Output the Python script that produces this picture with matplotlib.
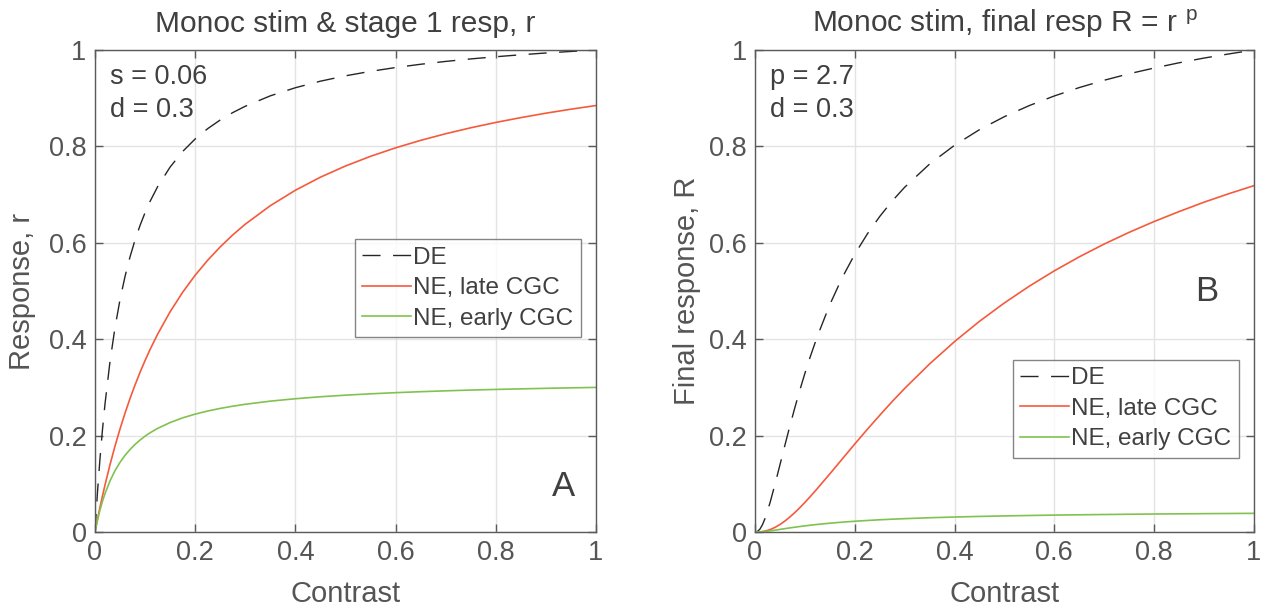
import matplotlib
matplotlib.use("Agg")
import matplotlib.pyplot as plt

plt.rcParams["font.family"] = ["Liberation Sans", "DejaVu Sans"]
plt.rcParams["mathtext.fontset"] = "custom"
plt.rcParams["mathtext.rm"] = "Liberation Sans"
plt.rcParams["mathtext.it"] = "Liberation Sans"

TXT = "#404040"
AX = "#5a5a5a"
RED = "#f55a3c"
GREEN = "#80c24f"

# contrast samples
contrast = [0, 0.005, 0.01, 0.015, 0.02, 0.03, 0.04, 0.05, 0.06, 0.07, 0.08, 0.09, 0.1, 0.11,
            0.125, 0.15, 0.175, 0.2, 0.225, 0.25, 0.275, 0.3, 0.35, 0.4, 0.45, 0.5, 0.55, 0.6,
            0.65, 0.7, 0.75, 0.8, 0.85, 0.9, 0.95, 1.0]

# panel A: stage 1 response r
de_r = [0, 0.0815, 0.1514, 0.212, 0.265, 0.3533, 0.424, 0.4818, 0.53, 0.5708, 0.6057, 0.636,
        0.6625, 0.6859, 0.7162, 0.7571, 0.7894, 0.8154, 0.8368, 0.8548, 0.8701, 0.8833, 0.9049,
        0.9217, 0.9353, 0.9464, 0.9557, 0.9636, 0.9704, 0.9763, 0.9815, 0.986, 0.9901, 0.9938,
        0.997, 1.0]
late_r = [0, 0.0261, 0.051, 0.0746, 0.0972, 0.1395, 0.1782, 0.2137, 0.2465, 0.2769, 0.305, 0.3313,
          0.3557, 0.3786, 0.4102, 0.4569, 0.4973, 0.5327, 0.5638, 0.5915, 0.6163, 0.6386, 0.677,
          0.709, 0.7361, 0.7593, 0.7794, 0.797, 0.8125, 0.8263, 0.8386, 0.8497, 0.8597, 0.8689,
          0.8772, 0.8848]
early_r = [0, 0.0245, 0.0454, 0.0636, 0.0795, 0.106, 0.1272, 0.1445, 0.159, 0.1712, 0.1817, 0.1908,
           0.1988, 0.2058, 0.2149, 0.2271, 0.2368, 0.2446, 0.251, 0.2564, 0.261, 0.265, 0.2715,
           0.2765, 0.2806, 0.2839, 0.2867, 0.2891, 0.2911, 0.2929, 0.2945, 0.2958, 0.297, 0.2981,
           0.2991, 0.3]

# panel B: final response R
de_R = [0, 0.00115, 0.0061, 0.01518, 0.0277, 0.0602, 0.0986, 0.1392, 0.1801, 0.2201, 0.2583, 0.2946,
        0.329, 0.3613, 0.406, 0.4718, 0.5281, 0.5763, 0.6181, 0.6546, 0.6868, 0.7153, 0.7635,
        0.8024, 0.8348, 0.8618, 0.8848, 0.9047, 0.9221, 0.9373, 0.9508, 0.9626, 0.9735, 0.9833,
        0.9919, 1.0]
late_R = [0, 0.00005, 0.00032, 0.0009, 0.00185, 0.0049, 0.0095, 0.0155, 0.0228, 0.0312, 0.0405, 0.0506,
          0.0614, 0.0726, 0.0902, 0.1206, 0.1516, 0.1826, 0.2128, 0.2422, 0.2707, 0.2979, 0.3488,
          0.3951, 0.4372, 0.4754, 0.5102, 0.5419, 0.5709, 0.5975, 0.6218, 0.6442, 0.6648, 0.6843,
          0.702, 0.7186]
early_R = [0, 0.00004, 0.00024, 0.00059, 0.00107, 0.00234, 0.00382, 0.00539, 0.00698, 0.00853, 0.01,
           0.01141, 0.01275, 0.014, 0.01574, 0.01827, 0.02045, 0.02233, 0.02394, 0.02535, 0.02661,
           0.0277, 0.02959, 0.0311, 0.03235, 0.0334, 0.03428, 0.0351, 0.03572, 0.0363, 0.03685,
           0.0373, 0.03771, 0.0381, 0.03843, 0.0387]

labels = ["DE", "NE, late CGC", "NE, early CGC"]
ticks = [0, 0.2, 0.4, 0.6, 0.8, 1]
ticklabels = ["0", "0.2", "0.4", "0.6", "0.8", "1"]


def style_axes(ax):
	ax.set_xlim(0, 1); ax.set_ylim(0, 1)
	ax.set_xticks(ticks); ax.set_yticks(ticks)
	ax.set_xticklabels(ticklabels); ax.set_yticklabels(ticklabels)
	ax.grid(True, color="#e3e3e3", linewidth=1.0)
	ax.set_axisbelow(True)
	ax.tick_params(direction="in", top=True, right=True, length=6, width=1.0,
				   colors=AX, labelcolor="#555555", labelsize=19.5, pad=6)
	for sp in ax.spines.values():
		sp.set_color(AX); sp.set_linewidth(1.0)
	ax.set_xlabel("Contrast", fontsize=21, color="#555555", labelpad=10)


def draw(ax, de, late, early):
	ax.plot(contrast, de, color="#262626", linewidth=1.0, dashes=(13, 9), label=labels[0])
	ax.plot(contrast, late, color=RED, linewidth=1.2, label=labels[1])
	ax.plot(contrast, early, color=GREEN, linewidth=1.2, label=labels[2])


def add_legend(ax, anchor):
	leg = ax.legend(loc="upper left", bbox_to_anchor=anchor, fontsize=17.5,
					frameon=True, fancybox=False, handlelength=2.0, handletextpad=0.1,
					borderpad=0.3, labelspacing=0.35, borderaxespad=0)
	leg.get_frame().set_edgecolor("#666666"); leg.get_frame().set_linewidth(1.0)
	for t in leg.get_texts():
		t.set_color(TXT)


fig = plt.figure(figsize=(12.71, 6.12), dpi=100)
axA = fig.add_axes([0.0747, 0.1307, 0.3942, 0.7876])
axB = fig.add_axes([0.594, 0.1307, 0.3926, 0.7876])

draw(axA, de_r, late_r, early_r)
style_axes(axA)
axA.set_ylabel("Response, r", fontsize=21, color="#555555", labelpad=9)
axA.set_title("Monoc stim & stage 1 resp, r", fontsize=21.5, color=TXT, pad=13)
axA.text(0.03, 0.945, "s = 0.06", fontsize=19.5, color=TXT, va="center")
axA.text(0.03, 0.875, "d = 0.3", fontsize=19.5, color=TXT, va="center")
axA.text(0.935, 0.095, "A", fontsize=25, color=TXT, ha="center", va="center")
add_legend(axA, (0.519, 0.607))

draw(axB, de_R, late_R, early_R)
style_axes(axB)
axB.set_ylabel("Final response, R", fontsize=21, color="#555555", labelpad=6)
axB.set_title(r"Monoc stim, final resp R = r $^{\rm p}$", fontsize=21.5, color=TXT, pad=13)
axB.text(0.03, 0.945, "p = 2.7", fontsize=19.5, color=TXT, va="center")
axB.text(0.03, 0.875, "d = 0.3", fontsize=19.5, color=TXT, va="center")
axB.text(0.905, 0.5, "B", fontsize=25, color=TXT, ha="center", va="center")
add_legend(axB, (0.517, 0.357))

fig.savefig("out.png", dpi=100)
plt.close(fig)
